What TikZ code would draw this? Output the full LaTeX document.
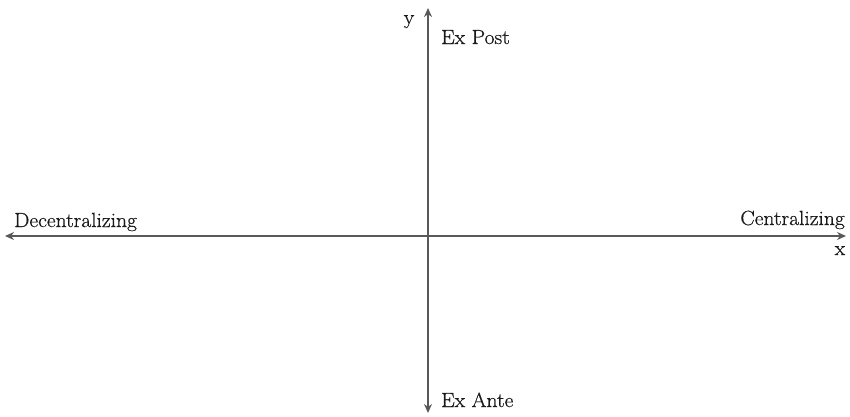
\documentclass[tikz,border=0pt]{standalone}
\usepackage{fontspec}
\setmainfont{Latin Modern Roman}[FakeStretch=1.05,FakeBold=0.6]
\usetikzlibrary{arrows.meta}
\begin{document}
\begin{tikzpicture}[x=1pt,y=-1pt,
  axis/.style={draw=black!65, line width=2.6pt, {Stealth[length=9pt,width=8pt]}-{Stealth[length=9pt,width=8pt]}},
  lbl/.style={font=\fontsize{20.5}{24}\selectfont, inner sep=0pt, text=black!90}]
\useasboundingbox (0,0) rectangle (850,416);
\coordinate (L) at (5,236);
\coordinate (R) at (846,236);
\coordinate (T) at (428,8);
\coordinate (B) at (428,413);
\draw[axis] (L) -- (R);
\draw[axis] (B) -- (T);
\node[lbl, anchor=base west] (dec) at (14,227) {Decentralizing};
\node[lbl, anchor=base east] (cen) at (845,225) {Centralizing};
\node[lbl, anchor=base] (xl) at (840,255) {x};
\node[lbl, anchor=base] (yl) at (409,24) {y};
\node[lbl, anchor=base west] (post) at (441,44) {Ex Post};
\node[lbl, anchor=base west] (ante) at (441,407) {Ex Ante};
\end{tikzpicture}
\end{document}
